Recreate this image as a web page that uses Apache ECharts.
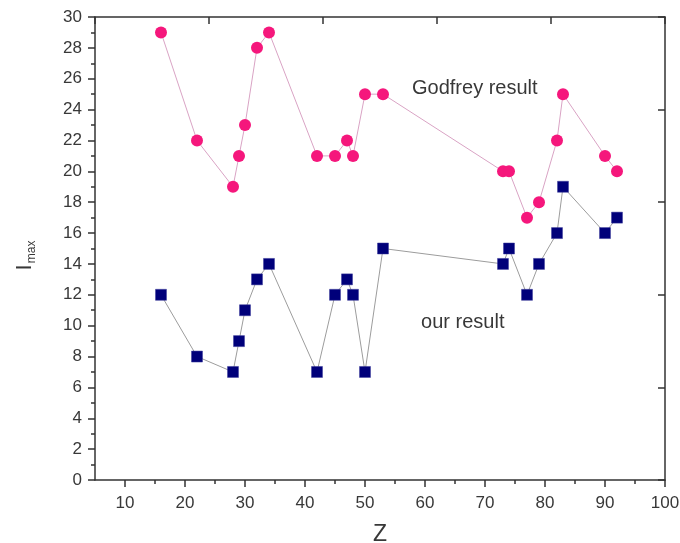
<!DOCTYPE html>
<html>
<head>
<meta charset="utf-8">
<script src="https://cdn.jsdelivr.net/npm/echarts@6/dist/echarts.min.js"></script>
<style>html,body{margin:0;padding:0;background:#fff}#c{width:680px;height:543px}</style>
</head>
<body>
<div id="c"></div>
<script>
var zValues = [16, 22, 28, 29, 30, 32, 34, 42, 45, 47, 48, 50, 53, 73, 74, 77, 79, 82, 83, 90, 92];
var godfrey = [29, 22, 19, 21, 23, 28, 29, 21, 21, 22, 21, 25, 25, 20, 20, 17, 18, 22, 25, 21, 20];
var ourResult = [12, 8, 7, 9, 11, 13, 14, 7, 12, 13, 12, 7, 15, 14, 15, 12, 14, 16, 19, 16, 17];
var xMajorTicks = [10, 20, 30, 40, 50, 60, 70, 80, 90, 100];
var xMinorTicks = [15, 25, 35, 45, 55, 65, 75, 85, 95];
var godfreyLabel = 'Godfrey result';
var ourLabel = 'our result';

function pairs(xs, ys) { return xs.map(function (x, i) { return [x, ys[i]]; }); }

var font = 'Liberation Sans, Arial, sans-serif';
var axisColor = '#333';
var textColor = '#383838';

var chart = echarts.init(document.getElementById('c'));
chart.setOption({
  animation: false,
  grid: { left: 95, right: 15, top: 17, bottom: 63, outerBoundsMode: 'none', containLabel: false },
  xAxis: [
    {
      type: 'value', min: 5, max: 100, position: 'bottom',
      name: 'Z', nameLocation: 'middle', nameGap: 43,
      nameTextStyle: { fontFamily: font, fontSize: 23, color: textColor },
      axisLine: { show: true, onZero: false, lineStyle: { color: axisColor, width: 1.5 } },
      axisTick: { show: true, inside: false, length: 7, customValues: xMajorTicks, lineStyle: { color: axisColor, width: 1.5 } },
      axisLabel: { show: true, customValues: xMajorTicks, fontFamily: font, fontSize: 17, color: textColor, margin: 15 },
      splitLine: { show: false }
    },
    {
      type: 'value', min: 5, max: 100, interval: 19, position: 'top',
      axisLine: { show: true, onZero: false, lineStyle: { color: axisColor, width: 1.5 } },
      axisTick: { show: true, inside: true, length: 7, lineStyle: { color: axisColor, width: 1.5 } },
      axisLabel: { show: false },
      splitLine: { show: false }
    },
    {
      type: 'value', min: 5, max: 100, position: 'bottom',
      axisLine: { show: false, onZero: false },
      axisTick: { show: true, inside: false, length: 4, customValues: xMinorTicks, lineStyle: { color: axisColor, width: 1.5 } },
      axisLabel: { show: false },
      splitLine: { show: false }
    }
  ],
  yAxis: [
    {
      type: 'value', min: 0, max: 30, interval: 2, position: 'left',
      name: '{i|I}{s|max}', nameLocation: 'middle', nameGap: 57, nameRotate: 90,
      nameTextStyle: {
        fontFamily: font, color: textColor, padding: [0, 14, 0, 0],
        rich: {
          i: { fontFamily: font, fontSize: 22, color: textColor },
          s: { fontFamily: font, fontSize: 12, color: textColor, verticalAlign: 'bottom', padding: [14, 0, 0, 1] }
        }
      },
      axisLine: { show: true, onZero: false, lineStyle: { color: axisColor, width: 1.5 } },
      axisTick: { show: true, inside: false, length: 7, lineStyle: { color: axisColor, width: 1.5 } },
      minorTick: { show: true, splitNumber: 2, length: 4, lineStyle: { color: axisColor, width: 1.5 } },
      axisLabel: { fontFamily: font, fontSize: 17, color: textColor, margin: 13 },
      splitLine: { show: false }
    },
    {
      type: 'value', min: 0, max: 30, interval: 6, position: 'right',
      axisLine: { show: true, onZero: false, lineStyle: { color: axisColor, width: 1.5 } },
      axisTick: { show: true, inside: true, length: 7, lineStyle: { color: axisColor, width: 1.5 } },
      axisLabel: { show: false },
      splitLine: { show: false }
    }
  ],
  series: [
    {
      type: 'line', xAxisIndex: 0, yAxisIndex: 0,
      data: pairs(zValues, godfrey),
      symbol: 'circle', symbolSize: 12,
      lineStyle: { color: '#d9a3c4', width: 1 },
      itemStyle: { color: '#f5177c', borderWidth: 0 },
      markPoint: {
        symbol: 'circle', symbolSize: 0,
        label: { show: true, formatter: godfreyLabel, fontFamily: font, fontSize: 20, color: textColor },
        data: [{ coord: [68.3, 25.4] }]
      }
    },
    {
      type: 'line', xAxisIndex: 0, yAxisIndex: 0,
      data: pairs(zValues, ourResult),
      symbol: 'rect', symbolSize: 11,
      lineStyle: { color: '#9c9c9c', width: 1 },
      itemStyle: { color: '#00007a', borderColor: '#3a3a9a', borderWidth: 0.5 },
      markPoint: {
        symbol: 'circle', symbolSize: 0,
        label: { show: true, formatter: ourLabel, fontFamily: font, fontSize: 20, color: textColor },
        data: [{ coord: [66.3, 10.2] }]
      }
    }
  ]
});
</script>
</body>
</html>
